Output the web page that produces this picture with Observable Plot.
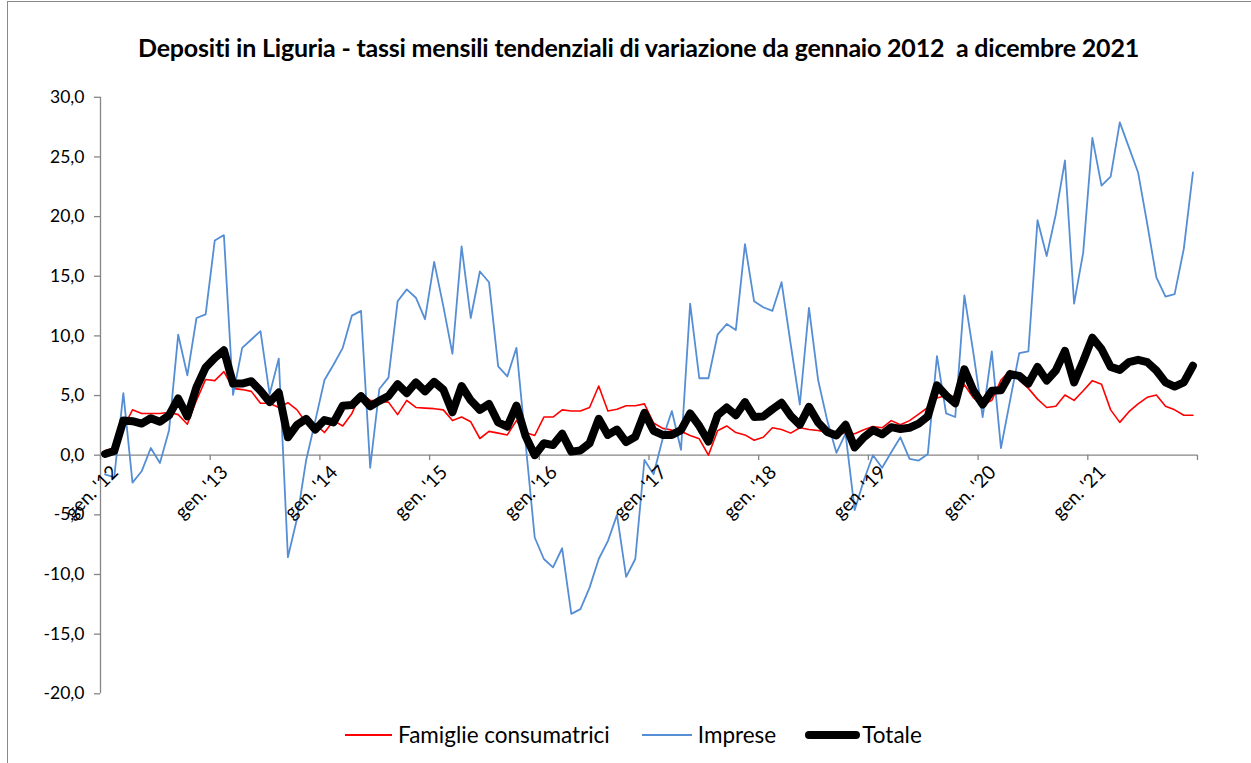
<!DOCTYPE html>
<html>
<head>
<meta charset="utf-8">
<script src="https://cdn.jsdelivr.net/npm/d3@7"></script>
<script src="https://cdn.jsdelivr.net/npm/@observablehq/plot@0.6"></script>
<style>
  html, body { margin: 0; padding: 0; background: #fff; }
  body { width: 1251px; height: 763px; position: relative; overflow: hidden; font-family: Lato, "Open Sans", sans-serif; color: #000; }
  #frame { position: absolute; left: 7px; top: 1px; right: 0; bottom: 0; border-left: 1.5px solid #8a8a8a; border-top: 1.5px solid #8a8a8a; }
  #title { position: absolute; left: 0; width: 1277px; top: 32px; text-align: center; font-weight: 700; font-size: 25px; letter-spacing: -0.2px; white-space: pre; line-height: 30px; }
  #chart { position: absolute; left: 0; top: 0; }
  #chart svg g[aria-label="y-axis tick"] path { stroke: #868686; stroke-width: 1.3; }
  #legend { position: absolute; left: 345px; top: 720px; display: flex; align-items: center; font-size: 22.5px; white-space: nowrap; line-height: 30px; }
  #legend .item { display: flex; align-items: center; }
  #legend svg { display: block; }
</style>
</head>
<body>
<div id="frame"></div>
<div id="title">Depositi in Liguria - tassi mensili tendenziali di variazione da gennaio 2012  a dicembre 2021</div>
<div id="chart"></div>
<div id="legend"></div>
<script>
// Series: monthly year-on-year rates, gen 2012 .. dic 2021 (120 months)
const seriesNames = ["Famiglie consumatrici", "Imprese", "Totale"];
const seriesColors = ["#FF0000", "#558ED5", "#000000"];
const seriesWidths = [1.6, 1.8, 8];

const famiglie = [
  0.4, 0.6, 2.3, 3.8, 3.5, 3.5, 3.5, 3.6, 3.4, 2.6, 4.6, 6.35,
  6.25, 7.0, 5.6, 5.5, 5.35, 4.35, 4.35, 4.0, 4.4, 3.8, 2.7, 2.6,
  1.9, 2.9, 2.45, 3.5, 5.2, 4.6, 4.5, 4.45, 3.4, 4.6, 4.0, 3.95,
  3.9, 3.8, 2.9, 3.2, 2.8, 1.4, 2.0, 1.85, 1.7, 2.9, 1.9, 1.65,
  3.2, 3.2, 3.8, 3.7, 3.7, 4.0, 5.8, 3.7, 3.85, 4.15, 4.15, 4.3,
  2.7, 2.25, 2.1, 2.0, 1.65, 1.37, 0.0, 2.05, 2.45, 1.9, 1.7, 1.25,
  1.5, 2.3, 2.15, 1.85, 2.3, 2.15, 2.07, 1.9, 1.77, 1.85, 1.8, 2.13,
  2.4, 2.3, 2.9, 2.55, 2.9, 3.45, 4.0, 4.8, 5.0, 4.9, 5.9, 4.8,
  4.2, 4.6, 6.3, 7.1, 6.3, 5.6, 4.7, 4.0, 4.1, 5.05, 4.6, 5.4,
  6.25, 5.95, 3.8, 2.75, 3.65, 4.3, 4.85, 5.05, 4.1, 3.8, 3.35, 3.35
];
const imprese = [
  -1.6, -1.85, 5.2, -2.3, -1.35, 0.6, -0.65, 2.1, 10.1, 6.7, 11.5, 11.8,
  18.0, 18.45, 5.05, 9.0, 9.7, 10.4, 5.1, 8.1, -8.55, -5.3, -0.4, 2.9,
  6.3, 7.6, 9.0, 11.7, 12.1, -1.05, 5.55, 6.5, 12.9, 13.9, 13.2, 11.4,
  16.2, 12.5, 8.5, 17.5, 11.5, 15.4, 14.5, 7.45, 6.6, 9.0, 1.0, -6.9,
  -8.7, -9.4, -7.8, -13.3, -12.9, -11.1, -8.7, -7.2, -5.0, -10.2, -8.7, -0.4,
  -1.6, 1.4, 3.7, 0.45, 12.7, 6.45, 6.45, 10.1, 11.0, 10.5, 17.7, 12.9,
  12.4, 12.1, 14.5, 9.3, 4.25, 12.35, 6.3, 2.9, 0.2, 1.8, -4.6, -2.1,
  0.0, -1.05, 0.25, 1.5, -0.3, -0.45, 0.1, 8.3, 3.5, 3.2, 13.4, 8.5,
  3.2, 8.7, 0.6, 4.6, 8.55, 8.7, 19.7, 16.7, 20.2, 24.7, 12.7, 17.0,
  26.6, 22.6, 23.35, 27.9, 25.8, 23.7, 19.4, 14.9, 13.3, 13.5, 17.3, 23.7
];
const totale = [
  0.1, 0.35, 2.9, 2.85, 2.65, 3.1, 2.8, 3.35, 4.75, 3.25, 5.7, 7.35,
  8.15, 8.8, 6.0, 6.0, 6.2, 5.4, 4.45, 5.25, 1.5, 2.55, 3.05, 2.15,
  2.95, 2.75, 4.15, 4.2, 4.95, 4.1, 4.55, 4.95, 5.95, 5.2, 6.1, 5.35,
  6.15, 5.5, 3.6, 5.8, 4.6, 3.8, 4.3, 2.75, 2.4, 4.15, 1.6, 0.0,
  1.0, 0.85, 1.8, 0.3, 0.4, 1.0, 3.05, 1.7, 2.15, 1.1, 1.55, 3.55,
  2.05, 1.7, 1.7, 2.1, 3.5, 2.45, 1.15, 3.35, 4.0, 3.35, 4.45, 3.2,
  3.25, 3.85, 4.4, 3.3, 2.55, 4.05, 2.75, 1.95, 1.65, 2.55, 0.65, 1.5,
  2.1, 1.75, 2.35, 2.2, 2.3, 2.65, 3.25, 5.85, 5.0, 4.35, 7.2, 5.4,
  4.25, 5.4, 5.45, 6.8, 6.65, 6.0, 7.4, 6.25, 7.1, 8.75, 6.1, 7.9,
  9.85, 8.9, 7.4, 7.15, 7.8, 8.0, 7.8, 7.1, 6.1, 5.75, 6.1, 7.5
];

const yearLabels = ["gen. '12", "gen. '13", "gen. '14", "gen. '15", "gen. '16",
                    "gen. '17", "gen. '18", "gen. '19", "gen. '20", "gen. '21"];
const yTicks = [-20, -15, -10, -5, 0, 5, 10, 15, 20, 25, 30];

// Build tables
const nMonths = famiglie.length;
const seriesValues = [famiglie, imprese, totale];
const rows = (k) => seriesValues[k].map((v, i) => ({i, v}));
const labelRows = yearLabels.map((t, k) => ({i: k * 12, t}));
const boundaries = d3.range(0, nMonths + 1, 12).map(b => b - 0.5);
const fmt = d => d.toFixed(1).replace(".", ",");

const chart = Plot.plot({
  width: 1251,
  height: 763,
  marginTop: 96.8,
  marginBottom: 69.7,
  marginLeft: 100,
  marginRight: 54,
  style: {fontFamily: "Lato, sans-serif", fontSize: "17.5px", color: "#000", background: "transparent", overflow: "visible"},
  x: {domain: [-0.5, nMonths - 0.5], axis: null},
  y: {domain: [-20, 30], ticks: yTicks, tickFormat: fmt, tickSize: 6, tickPadding: 10, label: null},
  marks: [
    Plot.ruleX([-0.5], {stroke: "#868686", strokeWidth: 1.3}),
    Plot.ruleY([0], {stroke: "#868686", strokeWidth: 1.3}),
    Plot.ruleX(boundaries, {x: d => d, y1: 0, y2: -0.45, stroke: "#868686", strokeWidth: 1.3}),
    ...[0, 1, 2].map(k => Plot.lineY(rows(k), {
      x: "i", y: "v", stroke: seriesColors[k], strokeWidth: seriesWidths[k],
      strokeLinejoin: "round", strokeLinecap: "round"
    })),
    Plot.text(labelRows, {x: "i", y: () => 0, text: "t", rotate: -45, textAnchor: "end",
      dx: 10, dy: 14, fill: "#000", fontSize: 19})
  ]
});
document.getElementById("chart").appendChild(chart);

// Legend
const legend = document.getElementById("legend");
const swatchW = [47, 50, 55];
const gaps = [32, 29, 0];
seriesNames.forEach((name, k) => {
  const item = document.createElement("div");
  item.className = "item";
  item.style.marginRight = gaps[k] + "px";
  const w = swatchW[k];
  const sw = seriesWidths[k];
  const cap = k === 2 ? sw / 2 : 0;
  item.innerHTML = `<svg width="${w}" height="12"><line x1="${cap}" x2="${w - cap}" y1="6" y2="6" stroke="${seriesColors[k]}" stroke-width="${k === 2 ? 8 : 2}" stroke-linecap="${k === 2 ? "round" : "butt"}"/></svg><span style="margin-left:${k === 2 ? 2 : 6}px">${name}</span>`;
  legend.appendChild(item);
});
</script>
</body>
</html>
